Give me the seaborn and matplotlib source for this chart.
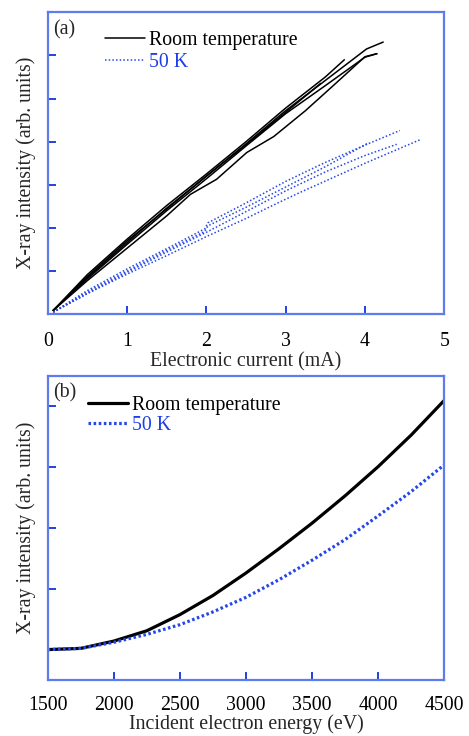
import matplotlib
matplotlib.use("Agg")
import matplotlib.pyplot as plt
import pandas as pd
import seaborn as sns

# ---------------- Panel (a): intensity vs electronic current ----------------
rt_runs_current = [
    [0.07, 0.5, 1.0, 1.5, 2.0, 2.5, 3.0, 3.5, 4.02, 4.23],
    [0.07, 0.5, 1.0, 1.5, 2.0, 2.5, 3.0, 3.5, 4.0, 4.15],
    [0.07, 0.5, 1.0, 1.5, 2.0, 2.5, 3.0, 3.5, 3.74],
    [0.07, 0.5, 1.0, 1.5, 2.0, 2.5, 3.0, 3.44],
    [0.07, 0.5, 1.0, 1.5, 1.8, 2.13, 2.51, 2.85, 3.25, 3.6, 4.0, 4.15],
]
rt_runs_intensity = [
    [0.09, 0.88, 1.70, 2.44, 3.20, 3.95, 4.72, 5.42, 6.15, 6.31],
    [0.09, 0.82, 1.62, 2.40, 3.14, 3.90, 4.65, 5.30, 5.96, 6.04],
    [0.09, 0.92, 1.74, 2.52, 3.25, 4.00, 4.78, 5.50, 5.90],
    [0.09, 0.85, 1.66, 2.46, 3.20, 3.93, 4.68, 5.35],
    [0.09, 0.78, 1.53, 2.28, 2.78, 3.13, 3.75, 4.12, 4.72, 5.30, 5.97, 6.04],
]
k50_runs_current = [
    [0.07, 0.5, 1.0, 1.5, 1.98, 2.02, 2.5, 3.0, 3.5, 4.0, 4.44],
    [0.07, 0.5, 1.0, 1.5, 1.98, 2.02, 2.5, 3.0, 3.5, 4.05],
    [0.07, 0.5, 1.0, 1.5, 2.0, 2.5, 3.0, 3.5, 4.0, 4.40],
    [0.07, 0.5, 1.0, 1.5, 2.0, 2.5, 2.9, 3.2, 3.6, 4.0, 4.70],
]
k50_runs_intensity = [
    [0.05, 0.55, 1.05, 1.52, 1.98, 2.12, 2.58, 3.08, 3.52, 3.92, 4.26],
    [0.05, 0.52, 1.00, 1.48, 1.92, 2.05, 2.48, 2.95, 3.42, 3.98],
    [0.05, 0.48, 0.97, 1.44, 1.90, 2.38, 2.86, 3.30, 3.68, 3.94],
    [0.05, 0.48, 0.93, 1.36, 1.80, 2.22, 2.58, 2.84, 3.17, 3.50, 4.05],
]

# ---------------- Panel (b): intensity vs incident electron energy ----------------
energy_ev = [1500, 1750, 2000, 2250, 2500, 2750, 3000, 3250, 3500, 3750, 4000, 4250, 4500]
rt_energy_intensity = [0.0, 0.02, 0.14, 0.31, 0.575, 0.89, 1.26, 1.66, 2.08, 2.53, 3.01, 3.53, 4.10]
k50_energy_intensity = [0.0, 0.02, 0.12, 0.25, 0.41, 0.62, 0.86, 1.15, 1.47, 1.81, 2.20, 2.60, 3.04]

labels = ["Room temperature", "50 K"]
current_ticks = [0, 1, 2, 3, 4, 5]
energy_ticks = [1500, 2000, 2500, 3000, 3500, 4000, 4500]

sns.set_style("ticks")
plt.rcParams["font.family"] = ["Liberation Serif", "DejaVu Serif"]

SPINE = "#5f7cec"
TICK = "#2241e0"
BLUE_LINE = "#2547e8"
BLUE_TEXT = "#1d3ee4"
FS = 14.3

fig = plt.figure(figsize=(4.69, 7.36), dpi=100)
ax_a = fig.add_axes([0.1017, 0.573, 0.8456, 0.4103])
ax_b = fig.add_axes([0.1017, 0.0761, 0.8456, 0.4130])

# panel (a) curves: one line per sweep
for i, (x, y) in enumerate(zip(rt_runs_current, rt_runs_intensity)):
    df = pd.DataFrame({"current": x, "intensity": y})
    sns.lineplot(data=df, x="current", y="intensity", ax=ax_a, color="black",
                 linewidth=1.1, estimator=None, sort=False,
                 label=labels[0] if i == 0 else None, legend=False)
for i, (x, y) in enumerate(zip(k50_runs_current, k50_runs_intensity)):
    df = pd.DataFrame({"current": x, "intensity": y})
    sns.lineplot(data=df, x="current", y="intensity", ax=ax_a, color=BLUE_LINE,
                 linewidth=1.1, linestyle=(0, (1, 1.4)), estimator=None, sort=False,
                 label=labels[1] if i == 0 else None, legend=False)

# panel (b) curves
df_b = pd.DataFrame({"energy": energy_ev, "rt": rt_energy_intensity,
                     "k50": k50_energy_intensity})
sns.lineplot(data=df_b, x="energy", y="rt", ax=ax_b, color="black",
             linewidth=2.3, estimator=None, sort=False, label=labels[0], legend=False)
sns.lineplot(data=df_b, x="energy", y="k50", ax=ax_b, color=BLUE_LINE,
             linewidth=2.3, linestyle=(0, (0.8, 0.8)), estimator=None, sort=False,
             label=labels[1], legend=False)

ax_a.set_xlim(0, 5)
ax_a.set_ylim(0, 7)
ax_a.set_xticks(current_ticks)
ax_a.set_xticklabels([str(t) for t in current_ticks])
ax_a.set_yticks(range(0, 7))

ax_b.set_xlim(1500, 4500)
ax_b.set_ylim(-0.5, 4.5)
ax_b.set_xticks(energy_ticks)
ax_b.set_xticklabels([str(t) for t in energy_ticks])
ax_b.set_yticks(range(0, 5))

for ax, xlabel, tag, leg_xy, spacing, tpad, lpad in [
    (ax_a, "Electronic current (mA)", "(a)", (0.1445, 0.938), 0.16, 12.5, 1.0),
    (ax_b, "Incident electron energy (eV)", "(b)", (0.1016, 0.933), 0.045, 11.8, -1.0),
]:
    for s in ax.spines.values():
        s.set_color(SPINE)
        s.set_linewidth(1.6)
        s.set_visible(True)
    ax.tick_params(axis="both", direction="in", length=5.5, width=1.4,
                   color=TICK, labelcolor="black", labelsize=FS)
    ax.tick_params(axis="x", pad=tpad)
    ax.tick_params(axis="y", labelleft=False)
    ax.set_xlabel(xlabel, fontsize=FS, labelpad=lpad)
    ax.set_ylabel("X-ray intensity (arb. units)", fontsize=FS, labelpad=8.5)
    ax.text(0.013, 0.975, tag, transform=ax.transAxes, ha="left", va="top",
            fontsize=FS)
    ax.legend(loc="upper left", bbox_to_anchor=leg_xy, frameon=False,
              fontsize=FS, handlelength=2.0, handletextpad=0.2,
              labelspacing=spacing, borderpad=0, borderaxespad=0,
              labelcolor=["black", BLUE_TEXT])
    ax.set_facecolor("white")

fig.savefig("out.png", dpi=100)
